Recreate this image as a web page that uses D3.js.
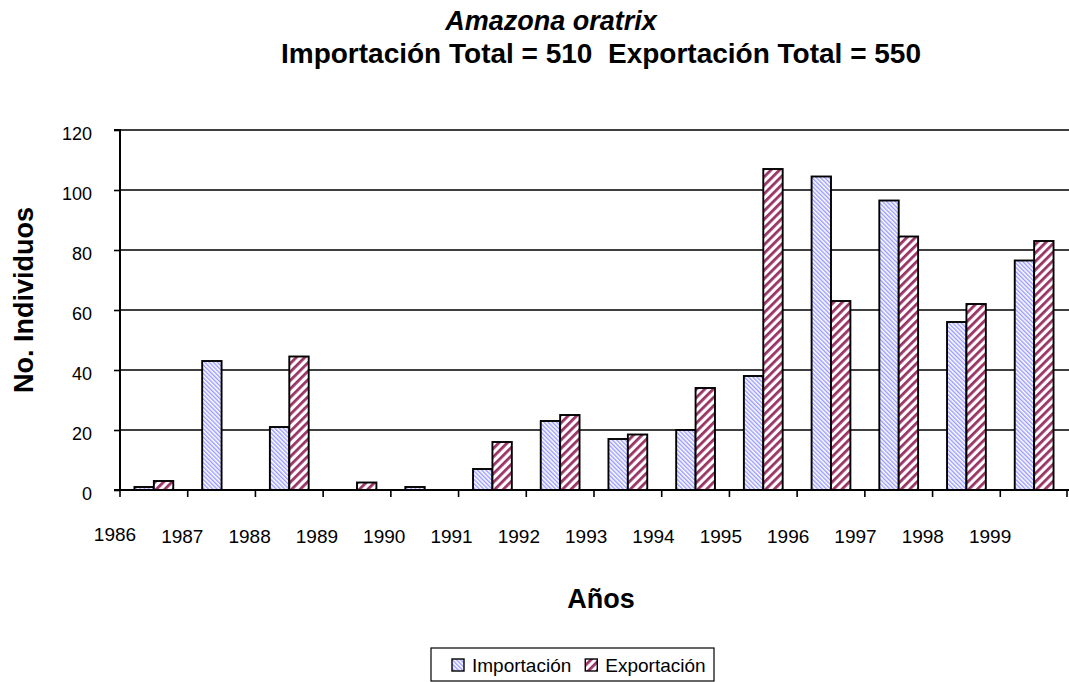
<!DOCTYPE html>
<html>
<head>
<meta charset="utf-8">
<script src="https://cdn.jsdelivr.net/npm/d3@7"></script>
<style>
  body { margin: 0; background: #fff; }
  text { font-family: Arial, "Liberation Sans", sans-serif; }
</style>
</head>
<body>
<div id="chart"></div>
<script>
// data
var years = ["1986", "1987", "1988", "1989", "1990", "1991", "1992", "1993", "1994", "1995", "1996", "1997", "1998", "1999"];
var importacion = [1, 43, 21, 0, 1, 7, 23, 17, 20, 38, 104.5, 96.5, 56, 76.5];
var exportacion = [3, 0, 44.5, 2.5, 0, 16, 25, 18.5, 34, 107, 63, 84.5, 62, 83];
var yTicks = [0, 20, 40, 60, 80, 100, 120];
var seriesNames = ["Importación", "Exportación"];

var svgWidth = 1069, svgHeight = 682;
var margin = { top: 130, right: 1, left: 120, bottom: 192 };

var svg = d3.select("#chart")
  .append("svg")
  .attr("width", svgWidth)
  .attr("height", svgHeight);

// hatch patterns
var defs = svg.append("defs");
var pImp = defs.append("pattern")
  .attr("id", "hatchImp")
  .attr("patternUnits", "userSpaceOnUse")
  .attr("width", 3).attr("height", 3)
  .attr("patternTransform", "rotate(-45)");
pImp.append("rect").attr("width", 3).attr("height", 3).attr("fill", "#fff");
pImp.append("rect").attr("width", 1.4).attr("height", 3).attr("fill", "#9999ff");

var pExp = defs.append("pattern")
  .attr("id", "hatchExp")
  .attr("patternUnits", "userSpaceOnUse")
  .attr("width", 6).attr("height", 6)
  .attr("patternTransform", "rotate(45)");
pExp.append("rect").attr("width", 6).attr("height", 6).attr("fill", "#fff");
pExp.append("rect").attr("width", 2.8).attr("height", 6).attr("fill", "#993366");

var fills = ["url(#hatchImp)", "url(#hatchExp)"];

var x0 = margin.left, x1 = svgWidth - margin.right;
var yTop = margin.top, yBot = svgHeight - margin.bottom;

var xScale = d3.scaleBand()
  .domain(years)
  .range([x0, x1])
  .paddingInner(0.427)
  .paddingOuter(0.2135);

var xSub = d3.scaleBand()
  .domain(seriesNames)
  .range([0, xScale.bandwidth()]);

var yScale = d3.scaleLinear()
  .domain([0, 120])
  .range([yBot, yTop]);

// gridlines
svg.append("g")
  .selectAll("line")
  .data(yTicks.filter(d => d > 0))
  .enter()
  .append("line")
  .attr("x1", x0).attr("x2", svgWidth)
  .attr("y1", d => yScale(d)).attr("y2", d => yScale(d))
  .attr("stroke", "#000")
  .attr("stroke-width", 1.6);

// bars
var rows = years.map((y, i) => ({ year: y, vals: [importacion[i], exportacion[i]] }));
var groups = svg.append("g")
  .selectAll("g")
  .data(rows)
  .enter()
  .append("g")
  .attr("transform", d => `translate(${xScale(d.year)},0)`);

groups.selectAll("rect")
  .data(d => d.vals.map((v, k) => ({ v: v, k: k })).filter(e => e.v > 0))
  .enter()
  .append("rect")
  .attr("x", e => xSub(seriesNames[e.k]))
  .attr("width", xSub.bandwidth())
  .attr("y", e => yScale(e.v))
  .attr("height", e => yBot - yScale(e.v))
  .attr("fill", e => fills[e.k])
  .attr("stroke", "#000")
  .attr("stroke-width", 1.9);

// y axis
var leftAxis = d3.axisLeft(yScale)
  .tickValues(yTicks)
  .tickSize(6)
  .tickPadding(22);
var gy = svg.append("g")
  .attr("transform", `translate(${x0},0)`)
  .call(leftAxis);
gy.select(".domain").attr("stroke", "#000").attr("stroke-width", 2).attr("d", `M-6,${yTop}H0V${yBot}H-6`);
gy.selectAll(".tick line").attr("stroke", "#000").attr("stroke-width", 1.6);
gy.selectAll(".tick text")
  .attr("font-size", "18px")
  .attr("fill", "#000")
  .attr("dy", "0.5em");

// x axis line and ticks at the band boundaries
var step = xScale.step();
var bounds = years.map(y => xScale(y) - step * xScale.paddingInner() / 2);
bounds.push(x1 - 1);
svg.append("line")
  .attr("x1", x0).attr("x2", svgWidth)
  .attr("y1", yBot).attr("y2", yBot)
  .attr("stroke", "#000").attr("stroke-width", 2);
svg.append("g")
  .selectAll("line")
  .data(bounds)
  .enter()
  .append("line")
  .attr("x1", d => d).attr("x2", d => d)
  .attr("y1", yBot).attr("y2", yBot + 7)
  .attr("stroke", "#000").attr("stroke-width", 1.6);

// year labels sit on the left boundary of each band
svg.append("g")
  .selectAll("text")
  .data(years)
  .enter()
  .append("text")
  .attr("x", (d, i) => bounds[i] - 5 - i * 0.4)
  .attr("y", (d, i) => i === 0 ? yBot + 51 : yBot + 53)
  .attr("text-anchor", "middle")
  .attr("font-size", "19px")
  .text(d => d);

// titles
svg.append("text")
  .attr("x", 551).attr("y", 30)
  .attr("text-anchor", "middle")
  .attr("font-size", "27px")
  .attr("font-weight", "bold")
  .attr("font-style", "italic")
  .text("Amazona oratrix");

svg.append("text")
  .attr("x", 601).attr("y", 63)
  .attr("text-anchor", "middle")
  .attr("font-size", "28px")
  .attr("font-weight", "bold")
  .attr("xml:space", "preserve")
  .style("white-space", "pre")
  .text("Importación Total = 510  Exportación Total = 550");

svg.append("text")
  .attr("transform", `translate(33, 300) rotate(-90)`)
  .attr("text-anchor", "middle")
  .attr("font-size", "27px")
  .attr("font-weight", "bold")
  .text("No. Individuos");

svg.append("text")
  .attr("x", 601).attr("y", 608)
  .attr("text-anchor", "middle")
  .attr("font-size", "27px")
  .attr("font-weight", "bold")
  .text("Años");

// legend
var legend = svg.append("g").attr("transform", "translate(431,648)");
legend.append("rect")
  .attr("width", 283).attr("height", 33)
  .attr("fill", "#fff").attr("stroke", "#000").attr("stroke-width", 1.2);
var lx = 21;
seriesNames.forEach(function(name, k) {
  legend.append("rect")
    .attr("x", lx).attr("y", 11)
    .attr("width", 12).attr("height", 12)
    .attr("fill", fills[k])
    .attr("stroke", "#000").attr("stroke-width", 1.4);
  var t = legend.append("text")
    .attr("x", lx + 20).attr("y", 24)
    .attr("font-size", "19px")
    .text(name);
  lx += 20 + t.node().getComputedTextLength() + 14;
});
</script>
</body>
</html>
